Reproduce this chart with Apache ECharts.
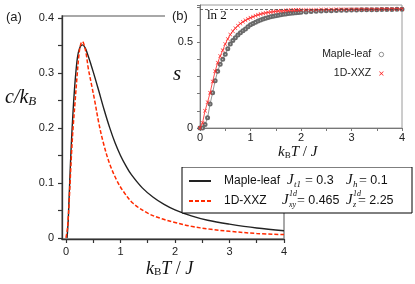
<!DOCTYPE html>
<html><head><meta charset="utf-8">
<script src="https://cdn.jsdelivr.net/npm/echarts@6/dist/echarts.min.js"></script>
<style>
html,body{margin:0;padding:0;background:#fff;}
#main{position:absolute;left:0;top:0;width:415px;height:284px;}
#inset{position:absolute;left:165px;top:0;width:250px;height:167px;background:#fff;}
</style></head><body>
<div id="main"></div><div id="inset"></div>
<script>
// ---------- Main panel (a): specific heat ----------
const mapleT = [0.02,0.04,0.06,0.08,0.10,0.13,0.165,0.21,0.25,0.30,0.35,0.40,0.50,0.60,0.70,0.80,0.90,1.0,1.1,1.2,1.4,1.6,1.8,2.0,2.3,2.6,3.0,3.5,4.0];
const mapleC = [0,0.03,0.08,0.13,0.175,0.23,0.282,0.328,0.345,0.351,0.346,0.333,0.302,0.268,0.233,0.201,0.173,0.150,0.131,0.115,0.091,0.074,0.061,0.051,0.040,0.032,0.025,0.018,0.013];
const xxzT = [0,0.03,0.06,0.10,0.13,0.165,0.20,0.24,0.27,0.30,0.33,0.37,0.41,0.47,0.53,0.60,0.68,0.80,0.93,1.05,1.23,1.5,1.72,2.0,2.3,2.63,3.0,3.5,4.0];
const xxzC = [0,0.02,0.07,0.15,0.20,0.245,0.29,0.335,0.352,0.357,0.352,0.335,0.308,0.278,0.248,0.21,0.175,0.135,0.105,0.085,0.063,0.045,0.036,0.028,0.021,0.016,0.012,0.008,0.006];
const mainXTicks = [0,0.5,1,1.5,2,2.5,3,3.5,4];
const mainXLabels = [0,1,2,3,4];
const mainYTicks = [0,0.05,0.1,0.15,0.2,0.25,0.3,0.35,0.4];
const mainYLabels = [0,0.1,0.2,0.3,0.4];
const legendNames = ['Maple-leaf','1D-XXZ'];

// ---------- Inset (b): entropy ----------
const sT = [0,0.05,0.1,0.15,0.2,0.25,0.3,0.35,0.4,0.45,0.5,0.55,0.6,0.65,0.7,0.75,0.8,0.85,0.9,0.95,1.0,1.05,1.1,1.15,1.2,1.25,1.3,1.35,1.4,1.45,1.5,1.55,1.6,1.65,1.7,1.75,1.8,1.85,1.9,1.95,2.0,2.1,2.2,2.3,2.4,2.5,2.6,2.7,2.8,2.9,3.0,3.1,3.2,3.3,3.4,3.5,3.6,3.7,3.8,3.9,4.0];
const sMaple = [0,0,0.02,0.06,0.14,0.205,0.275,0.33,0.37,0.4,0.428,0.46,0.488,0.508,0.525,0.54,0.553,0.565,0.576,0.589,0.6,0.608,0.615,0.622,0.628,0.633,0.638,0.642,0.646,0.65,0.653,0.656,0.659,0.661,0.663,0.665,0.667,0.669,0.67,0.672,0.673,0.675,0.677,0.679,0.68,0.681,0.682,0.683,0.684,0.685,0.686,0.686,0.687,0.687,0.688,0.688,0.689,0.689,0.689,0.69,0.69];
const sXXZ = [0,0.03,0.1,0.15,0.205,0.27,0.33,0.38,0.418,0.452,0.488,0.518,0.543,0.563,0.58,0.595,0.607,0.617,0.626,0.634,0.641,0.647,0.653,0.658,0.662,0.666,0.669,0.672,0.674,0.676,0.678,0.68,0.681,0.682,0.683,0.684,0.685,0.686,0.686,0.687,0.687,0.688,0.688,0.688,0.689,0.689,0.689,0.69,0.69,0.69,0.69,0.691,0.691,0.691,0.691,0.691,0.692,0.692,0.692,0.692,0.692];
const lnTwo = 0.6931;

const SANS = '"Liberation Sans", Arial, sans-serif';
const SERIF = '"Liberation Serif", "Times New Roman", serif';
const RED = '#ff2a00';
const XMARK = 'path://M0,1L1,0L5,4L9,0L10,1L6,5L10,9L9,10L5,6L1,10L0,9L4,5Z';
const pair = (xs, ys) => xs.map((x, i) => [x, ys[i]]);

const main = echarts.init(document.getElementById('main'));
main.setOption({
  animation: false,
  grid: {left: 62, top: 16, width: 222, height: 223, show: true, borderColor: '#8c8c8c', borderWidth: 1.5},
  xAxis: {
    type: 'value', min: -0.073, max: 4,
    axisLine: {onZero: false, lineStyle: {color: '#333', width: 1.3}},
    axisTick: {customValues: mainXTicks, length: 4, lineStyle: {color: '#333', width: 1.2}},
    axisLabel: {customValues: mainXLabels, formatter: v => String(v), fontFamily: SANS, fontSize: 11, color: '#222', margin: 7},
    splitLine: {show: false}
  },
  yAxis: {
    type: 'value', min: -0.002, max: 0.4036,
    axisLine: {onZero: false, lineStyle: {color: '#333', width: 1.3}},
    axisTick: {customValues: mainYTicks, length: 4, lineStyle: {color: '#333', width: 1.2}},
    axisLabel: {customValues: mainYLabels, formatter: v => (v === 0 ? '0' : v.toFixed(1)), fontFamily: SANS, fontSize: 11, color: '#222', margin: 8},
    splitLine: {show: false}
  },
  legend: {
    orient: 'vertical', left: 188, top: 175, itemWidth: 22, itemHeight: 12, itemGap: 8, padding: 0, z: 11,
    selectedMode: false, data: legendNames,
    itemStyle: {opacity: 0},
    textStyle: {fontFamily: SANS, fontSize: 12, color: '#111', padding: [0, 0, 0, 8]}
  },
  series: [
    {name: legendNames[0], type: 'line', data: pair(mapleT, mapleC), smooth: 0.35, symbol: 'none',
     lineStyle: {color: '#222', width: 1.4}, itemStyle: {color: '#222'}, z: 3},
    {name: legendNames[1], type: 'line', data: pair(xxzT, xxzC), smooth: 0.35, symbol: 'none',
     lineStyle: {color: RED, width: 1.5, type: [4, 2]}, itemStyle: {color: RED}, z: 4}
  ],
  graphic: [
    {type: 'text', left: 6, top: 11, style: {text: '(a)', font: '13px ' + SANS, fill: '#222'}},
    {type: 'text', left: 5, top: 88, style: {text: '{i|c/k}{s|B}', rich: {
      i: {fontFamily: SERIF, fontStyle: 'italic', fontSize: 20, fill: '#111', verticalAlign: 'bottom'},
      s: {fontFamily: SERIF, fontStyle: 'italic', fontSize: 13, fill: '#111', verticalAlign: 'bottom'}}}},
    {type: 'text', left: 146, top: 260, style: {text: '{i|k}{s|B}{i|T}{r| / }{i|J}', rich: {
      i: {fontFamily: SERIF, fontStyle: 'italic', fontSize: 18, fill: '#111', verticalAlign: 'bottom'},
      s: {fontFamily: SERIF, fontSize: 11, fill: '#111', verticalAlign: 'bottom'},
      r: {fontFamily: SERIF, fontSize: 18, fill: '#111', verticalAlign: 'bottom'}}}},
    {type: 'rect', z: 10, shape: {x: 182, y: 167, width: 230, height: 46}, style: {fill: '#fff', stroke: '#000', lineWidth: 1}},
    // legend parameter annotations, row 1
    {type: 'text', z: 12, x: 287, y: 180, style: {text: 'J', font: 'italic 15px ' + SERIF, fill: '#111', verticalAlign: 'middle'}},
    {type: 'text', z: 12, x: 294, y: 185, style: {text: 't1', font: 'italic 9px ' + SERIF, fill: '#111', verticalAlign: 'middle'}},
    {type: 'text', z: 12, x: 305, y: 181, style: {text: '{e|=} {n|0.3}', verticalAlign: 'middle', rich: {
      e: {fontFamily: SERIF, fontSize: 14, fill: '#111'}, n: {fontFamily: SANS, fontSize: 12.5, fill: '#111'}}}},
    {type: 'text', z: 12, x: 346, y: 180, style: {text: 'J', font: 'italic 15px ' + SERIF, fill: '#111', verticalAlign: 'middle'}},
    {type: 'text', z: 12, x: 353, y: 185, style: {text: 'h', font: 'italic 9px ' + SERIF, fill: '#111', verticalAlign: 'middle'}},
    {type: 'text', z: 12, x: 359, y: 181, style: {text: '{e|=} {n|0.1}', verticalAlign: 'middle', rich: {
      e: {fontFamily: SERIF, fontSize: 14, fill: '#111'}, n: {fontFamily: SANS, fontSize: 12.5, fill: '#111'}}}},
    // row 2
    {type: 'text', z: 12, x: 282, y: 200, style: {text: 'J', font: 'italic 15px ' + SERIF, fill: '#111', verticalAlign: 'middle'}},
    {type: 'text', z: 12, x: 289, y: 194, style: {text: '1d', font: 'italic 8px ' + SERIF, fill: '#111', verticalAlign: 'middle'}},
    {type: 'text', z: 12, x: 289, y: 205, style: {text: 'xy', font: 'italic 8px ' + SERIF, fill: '#111', verticalAlign: 'middle'}},
    {type: 'text', z: 12, x: 297, y: 201, style: {text: '{e|=} {n|0.465}', verticalAlign: 'middle', rich: {
      e: {fontFamily: SERIF, fontSize: 14, fill: '#111'}, n: {fontFamily: SANS, fontSize: 12.5, fill: '#111'}}}},
    {type: 'text', z: 12, x: 346, y: 200, style: {text: 'J', font: 'italic 15px ' + SERIF, fill: '#111', verticalAlign: 'middle'}},
    {type: 'text', z: 12, x: 353, y: 194, style: {text: '1d', font: 'italic 8px ' + SERIF, fill: '#111', verticalAlign: 'middle'}},
    {type: 'text', z: 12, x: 353, y: 205, style: {text: 'z', font: 'italic 8px ' + SERIF, fill: '#111', verticalAlign: 'middle'}},
    {type: 'text', z: 12, x: 358, y: 201, style: {text: '{e|=} {n|2.25}', verticalAlign: 'middle', rich: {
      e: {fontFamily: SERIF, fontSize: 14, fill: '#111'}, n: {fontFamily: SANS, fontSize: 12.5, fill: '#111'}}}}
  ]
});

const inset = echarts.init(document.getElementById('inset'));
inset.setOption({
  animation: false,
  grid: {left: 35, top: 5, width: 202, height: 123, show: true, borderColor: '#9a9a9a', borderWidth: 1},
  xAxis: {
    type: 'value', min: 0, max: 4, interval: 0.5,
    axisLine: {onZero: false, lineStyle: {color: '#777', width: 1}},
    axisTick: {length: 3, lineStyle: {color: '#777'}},
    axisLabel: {formatter: v => (Number.isInteger(v) ? String(v) : ''), fontFamily: SANS, fontSize: 11, color: '#222', margin: 4},
    splitLine: {show: false}
  },
  yAxis: {
    type: 'value', min: 0, max: 0.715, interval: 0.1,
    axisLine: {onZero: false, lineStyle: {color: '#777', width: 1}},
    axisTick: {length: 3, lineStyle: {color: '#777'}},
    axisLabel: {formatter: v => (Math.abs(v) < 1e-9 ? '0' : (Math.abs(v - 0.5) < 1e-9 ? '0.5' : '')), fontFamily: SANS, fontSize: 11, color: '#222', margin: 7},
    splitLine: {show: false}
  },
  legend: {
    orient: 'vertical', right: 31, top: 49, align: 'right', itemWidth: 4.5, itemHeight: 4.5, itemGap: 8, padding: 0,
    selectedMode: false,
    data: [{name: legendNames[0], icon: 'circle', itemStyle: {color: '#fff', borderColor: '#666', borderWidth: 0.7}},
           {name: legendNames[1], icon: XMARK}],
    textStyle: {fontFamily: SANS, fontSize: 10.5, color: '#222', padding: [0, 3, 0, 0]}
  },
  series: [
    {name: legendNames[0], type: 'line', data: pair(sT, sMaple), symbol: 'emptyCircle', symbolSize: 3,
     lineStyle: {color: '#6a6a6a', width: 0.7}, itemStyle: {color: '#6a6a6a', borderColor: '#6a6a6a', borderWidth: 0.6}, z: 3,
     markLine: {silent: true, symbol: ['none', 'none'], label: {show: false}, data: [{yAxis: lnTwo}],
       lineStyle: {type: [3, 2], color: '#444', width: 0.8}}},
    {name: legendNames[1], type: 'line', data: pair(sT, sXXZ),
     symbol: XMARK, symbolSize: 4,
     lineStyle: {color: '#ff2020', width: 0.8}, itemStyle: {color: '#ff2020'}, z: 4}
  ],
  graphic: [
    {type: 'text', left: 7, top: 10, style: {text: '(b)', font: '13px ' + SANS, fill: '#222'}},
    {type: 'text', left: 8, top: 64, style: {text: 's', font: 'italic 21px ' + SERIF, fill: '#111'}},
    {type: 'text', left: 42, top: 9, style: {text: 'ln 2', font: '13px ' + SERIF, fill: '#111'}},
    {type: 'text', left: 113, top: 145, style: {text: '{i|k}{s|B}{i|T}{r| / }{i|J}', rich: {
      i: {fontFamily: SERIF, fontStyle: 'italic', fontSize: 15, fill: '#111', verticalAlign: 'bottom'},
      s: {fontFamily: SERIF, fontSize: 9, fill: '#111', verticalAlign: 'bottom'},
      r: {fontFamily: SERIF, fontSize: 15, fill: '#111', verticalAlign: 'bottom'}}}}
  ]
});
</script></body></html>
